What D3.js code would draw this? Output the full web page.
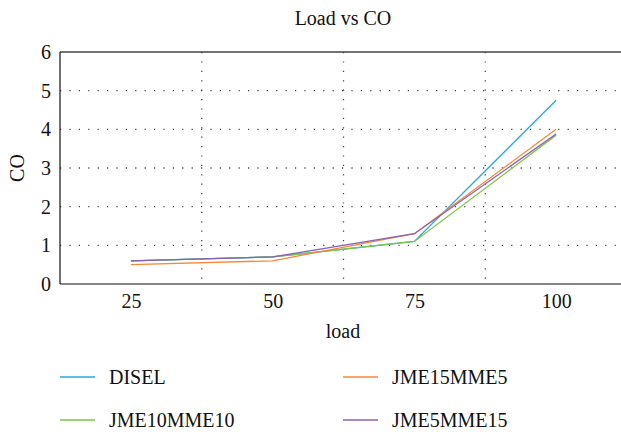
<!DOCTYPE html>
<html>
<head>
<meta charset="utf-8">
<script src="https://cdn.jsdelivr.net/npm/d3@7"></script>
<style>
  body { margin: 0; background: #fff; }
</style>
</head>
<body>
<div id="chart"></div>
<script>
// data
const loads = [25, 50, 75, 100];
const disel = [0.6, 0.7, 1.1, 4.75];
const jme15mme5 = [0.5, 0.6, 1.3, 4.0];
const jme10mme10 = [0.6, 0.7, 1.1, 3.85];
const jme5mme15 = [0.6, 0.7, 1.3, 3.88];
const yTicks = [0, 1, 2, 3, 4, 5, 6];
const xGrid = [37.5, 62.5, 87.5];

const series = [
  {name: "DISEL", vals: disel, color: "#29a8e0"},
  {name: "JME15MME5", vals: jme15mme5, color: "#f7883d"},
  {name: "JME10MME10", vals: jme10mme10, color: "#7cc644"},
  {name: "JME5MME15", vals: jme5mme15, color: "#8a62b3"}
];
// draw order: blue, green, orange, purple on top
const drawOrder = [0, 2, 1, 3];

const FONT = "Liberation Serif";
const FS = "20px";
const W = 621, H = 432;
const margin = {left: 60, top: 52, right: -6, bottom: 148};
const w = W - margin.left - margin.right,
      h = H - margin.top - margin.bottom;

const svg = d3.select("#chart").append("svg")
  .attr("width", W).attr("height", H)
  .style("font-family", FONT);

const g = svg.append("g")
  .attr("transform", "translate(" + margin.left + "," + margin.top + ")");

let x = d3.scaleLinear().domain([12.5, 112.5]).range([0, w]),
    y = d3.scaleLinear().domain([0, 6]).range([h, 0]);

// dotted grid
g.selectAll(".hgrid").data(yTicks.filter(d => d > 0 && d < 6))
  .enter().append("line")
  .attr("x1", 0).attr("x2", w)
  .attr("y1", d => y(d)).attr("y2", d => y(d))
  .style("stroke", "#444").style("stroke-width", 1.3)
  .style("stroke-dasharray", "1.2,8.2");

g.selectAll(".vgrid").data(xGrid)
  .enter().append("line")
  .attr("x1", d => x(d)).attr("x2", d => x(d))
  .attr("y1", 0).attr("y2", h)
  .style("stroke", "#444").style("stroke-width", 1.3)
  .style("stroke-dasharray", "1.2,8.2");

// frame: top, left, bottom
g.append("line").attr("x1", 0).attr("x2", w).attr("y1", 0).attr("y2", 0)
  .style("stroke", "#444").style("stroke-width", 1.6);
g.append("line").attr("x1", 0).attr("x2", 0).attr("y1", 0).attr("y2", h)
  .style("stroke", "#111").style("stroke-width", 1.2);
g.append("line").attr("x1", 0).attr("x2", w).attr("y1", h).attr("y2", h)
  .style("stroke", "#111").style("stroke-width", 1.2);

// text helper
function label(t){
  return t.attr("font-family", FONT).style("font-family", FONT)
    .style("font-size", FS).style("fill", "#111");
}

// axes (labels only)
function makeYAxis(sel){
  sel.call(d3.axisLeft(y).tickValues(yTicks).tickSize(0).tickPadding(9).tickFormat(d3.format("d")));
  sel.attr("font-family", FONT).attr("font-size", null);
  sel.select(".domain").remove();
  label(sel.selectAll("text")).attr("dy", "0.33em");
}
function makeXAxis(sel){
  sel.call(d3.axisBottom(x).tickValues(loads).tickSize(0).tickPadding(10).tickFormat(d3.format("d")));
  sel.attr("font-family", FONT).attr("font-size", null);
  sel.select(".domain").remove();
  label(sel.selectAll("text"));
}
g.append("g").call(makeYAxis);
g.append("g").attr("transform", "translate(0," + h + ")").call(makeXAxis);

// lines
let line = d3.line()
  .x((d, i) => x(loads[i]))
  .y(d => y(d));

g.selectAll(".co-line").data(drawOrder.map(i => series[i]))
  .enter().append("path")
  .attr("class", "co-line")
  .attr("d", d => line(d.vals))
  .style("fill", "none")
  .style("stroke", d => d.color)
  .style("stroke-width", 1.3);

// titles
label(svg.append("text").attr("x", 343).attr("y", 25)
  .attr("text-anchor", "middle").text("Load vs CO"));
label(svg.append("text").attr("transform", "translate(24," + (margin.top + y(3)) + ") rotate(-90)")
  .attr("text-anchor", "middle").text("CO"));
label(svg.append("text").attr("x", 343).attr("y", 338)
  .attr("text-anchor", "middle").text("load"));

// legend, two columns
const legend = svg.selectAll(".leg").data(series)
  .enter().append("g")
  .attr("class", "leg")
  .attr("transform", (d, i) => "translate(" + (i % 2 ? 343 : 60) + "," + (i < 2 ? 377 : 420) + ")");
legend.append("line").attr("x1", 0).attr("x2", 35).attr("y1", 0).attr("y2", 0)
  .style("stroke", d => d.color).style("stroke-width", 1.5);
label(legend.append("text").attr("x", 49).attr("dy", "0.33em").text(d => d.name));
</script>
</body>
</html>
